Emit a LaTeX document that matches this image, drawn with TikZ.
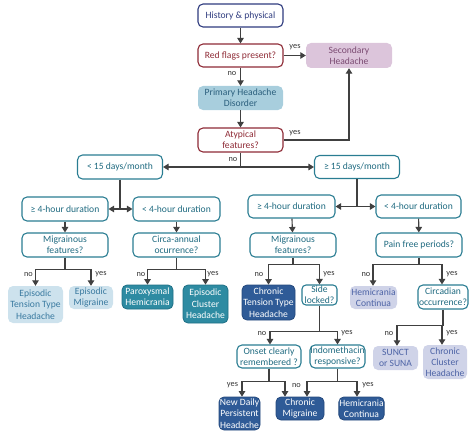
\documentclass[tikz,border=0pt]{standalone}
\usepackage{fontspec}
\setmainfont{Carlito}
\usetikzlibrary{arrows.meta,calc}
\definecolor{navy}{HTML}{2E3B7E}
\definecolor{dred}{HTML}{8E2A35}
\definecolor{teal}{HTML}{2A7D92}
\definecolor{tealtxt}{HTML}{1F6A80}
\definecolor{mauve}{HTML}{DCC5DB}
\definecolor{mauvetxt}{HTML}{7B4B72}
\definecolor{primf}{HTML}{A8CEDD}
\definecolor{primtxt}{HTML}{2B5F7D}
\definecolor{lightf}{HTML}{CDE2ED}
\definecolor{lighttxt}{HTML}{3A7AA0}
\definecolor{tealf}{HTML}{2E8BA2}
\definecolor{tealb}{HTML}{1F6F85}
\definecolor{darkf}{HTML}{2F5B97}
\definecolor{darkb}{HTML}{24497D}
\definecolor{lavf}{HTML}{CFD3E8}
\definecolor{lavtxt}{HTML}{4E64A6}
\definecolor{linec}{HTML}{404040}
\begin{document}
\begin{tikzpicture}[x=1pt,y=-1pt,
  base/.style={rounded corners=5pt,align=center,inner sep=0.5pt,font=\fontsize{9.6}{11.3}\selectfont},
  navybox/.style={base,draw=navy,text=navy,line width=1.1pt},
  redbox/.style={base,draw=dred,text=dred,line width=1.1pt},
  tealbox/.style={base,draw=teal,text=tealtxt,line width=1.1pt},
  mauvebox/.style={base,fill=mauve,text=mauvetxt},
  primbox/.style={base,fill=primf,text=primtxt},
  lightbox/.style={base,fill=lightf,text=lighttxt},
  tealleaf/.style={base,fill=tealf,draw=tealb,line width=0.8pt,text=white},
  darkleaf/.style={base,fill=darkf,draw=darkb,line width=0.8pt,text=white},
  lavbox/.style={base,fill=lavf,text=lavtxt},
  sz/.style 2 args={minimum width=#1pt,minimum height=#2pt},
  conn/.style={draw=linec,line width=1.1pt},
  arr/.style={conn,-{Triangle[length=5.5pt,width=6.5pt]}},
  lab/.style={font=\fontsize{8.3}{9}\selectfont,text=black!80,inner sep=0.5pt}
]
\useasboundingbox (0,0) rectangle (474,436);

% nodes
\node[navybox,sz={85}{23}] (hist) at (240.5,15.5) {History \& physical};
\node[redbox,sz={85}{23}] (red) at (240.5,55.5) {Red flags present?};
\node[mauvebox,sz={86}{25}] (sec) at (349,55.5) {Secondary\\Headache};
\node[primbox,sz={85}{24}] (prim) at (240.5,98) {Primary Headache\\Disorder};
\node[redbox,sz={85}{24}] (atyp) at (240.5,140) {Atypical\\features?};
\node[tealbox,sz={85}{24}] (lt15) at (120,167) {< 15 days/month};
\node[tealbox,sz={85}{23}] (ge15) at (357,167) {≥ 15 days/month};

\node[tealbox,sz={86}{24}] (lge4) at (65,209) {≥ 4-hour duration};
\node[tealbox,sz={87}{24}] (llt4) at (176.5,209) {< 4-hour duration};
\node[tealbox,sz={86}{24}] (lmig) at (65,245) {Migrainous\\features?};
\node[tealbox,sz={87}{24}] (circa) at (176.5,245) {Circa-annual\\ocurrence?};

\node[lightbox,sz={55}{37}] (etth) at (35.5,304.5) {Episodic\\Tension Type\\Headache};
\node[lightbox,sz={44}{23}] (em) at (91,297.5) {Episodic\\Migraine};
\node[tealleaf,sz={51}{24}] (ph) at (147.5,297) {Paroxysmal\\Hemicrania};
\node[tealleaf,sz={45}{38}] (ech) at (205.5,304) {Episodic\\Cluster\\Headache};

\node[tealbox,sz={87}{23}] (rge4) at (291.5,206.5) {≥ 4-hour duration};
\node[tealbox,sz={85}{23}] (rlt4) at (418.5,206.5) {< 4-hour duration};
\node[tealbox,sz={86}{24}] (rmig) at (293,245) {Migrainous\\features?};
\node[tealbox,sz={86}{24}] (pain) at (419,245) {Pain free periods?};

\node[darkleaf,sz={53}{35}] (ctth) at (268.5,302.5) {Chronic\\Tension Type\\Headache};
\node[tealbox,sz={35}{20},rounded corners=4pt] (side) at (319.5,295) {Side\\locked?};
\node[lavbox,sz={47}{23}] (hc1) at (373.5,297.5) {Hemicrania\\Continua};
\node[tealbox,sz={50}{24},inner sep=0pt] (circ) at (443,297) {Circadian\\occurrence?};

\node[tealbox,sz={64}{23}] (onset) at (269,356.5) {Onset clearly\\remembered ?};
\node[tealbox,sz={55}{23},inner sep=0pt] (indo) at (337.5,356.5) {Indomethacin\\responsive?};
\node[lavbox,sz={45}{24}] (sunct) at (395.5,358) {SUNCT\\or SUNA};
\node[lavbox,sz={44}{34}] (cch) at (445,362) {Chronic\\Cluster\\Headache};

\node[darkleaf,sz={41}{33}] (ndph) at (239.5,413.5) {New Daily\\Persistent\\Headache};
\node[darkleaf,sz={48}{23}] (cm) at (300,408.5) {Chronic\\Migraine};
\node[darkleaf,sz={43}{23}] (hc2) at (361.5,408.5) {Hemicrania\\Continua};

% connectors top
\draw[arr] (hist) -- (red);
\draw[arr] (red) -- (prim);
\node[lab] (lno1) at (232,73.5) {no};
\draw[arr] (red.east) -- (sec.west);
\node[lab] (lyes1) at (295,47.5) {yes};
\draw[arr] (prim) -- (atyp);
\draw[arr] (atyp.east) -| (sec.south);
\node[lab] (lyes2) at (295,133.5) {yes};
\coordinate (j1) at (atyp.south |- lt15.east);
\draw[conn] (atyp.south) -- (j1);
\draw[arr] (j1) -- (lt15.east);
\draw[arr] (j1) -- (ge15.west);
\node[lab] (lno2) at (233,159.5) {no};

% left half
\coordinate (j2) at (lt15.south |- lge4.east);
\draw[conn] (lt15.south) -- (j2);
\draw[arr] (j2) -- (lge4.east);
\draw[arr] (j2) -- (llt4.west);
\draw[arr] (lge4) -- (lmig);
\draw[arr] (llt4) -- (circa);

\coordinate (j3) at ($(lmig.south)+(0,11.5)$);
\draw[conn] (lmig.south) -- (j3);
\draw[arr] (j3) -| (etth.north);
\draw[arr] (j3) -| (em.north);
\node[lab] (lno3) at (28.5,274.5) {no};
\node[lab] (lyes3) at (101,274.5) {yes};

\coordinate (j4) at ($(circa.south)+(0,11.5)$);
\draw[conn] (circa.south) -- (j4);
\draw[arr] (j4) -| (ph.north);
\draw[arr] (j4) -| (ech.north);
\node[lab] (lno4) at (141,274.5) {no};
\node[lab] (lyes4) at (213,274.5) {yes};

% right half
\coordinate (j5) at (ge15.south |- rge4.east);
\draw[conn] (ge15.south) -- (j5);
\draw[arr] (j5) -- (rge4.east);
\draw[arr] (j5) -- (rlt4.west);
\draw[arr] (rge4) -- (rmig);
\draw[arr] (rlt4) -- (pain);

\coordinate (j6) at ($(rmig.south)+(0,7)$);
\draw[conn] (rmig.south) -- (j6);
\draw[arr] (j6) -| (ctth.north);
\draw[arr] (j6) -| (side.north);
\node[lab] (lno5) at (259,274.5) {no};
\node[lab] (lyes5) at (329,274.5) {yes};

\coordinate (j7) at ($(pain.south)+(0,7)$);
\draw[conn] (pain.south) -- (j7);
\draw[arr] (j7) -| ([xshift=-0.5pt]hc1.north);
\draw[arr] (j7) -| ([xshift=-1pt]circ.north);
\node[lab] (lno6) at (366,274.5) {no};
\node[lab] (lyes6) at (452,274.5) {yes};

\coordinate (j8) at ($(side.south)+(0,26)$);
\draw[conn] (side.south) -- (j8);
\draw[arr] (j8) -| ([xshift=1pt]onset.north);
\draw[arr] (j8) -| (indo.north);
\node[lab] (lno7) at (262,333.5) {no};
\node[lab] (lyes7) at (347,333.5) {yes};

\coordinate (j9) at ($(circ.south)+(0,16)$);
\draw[conn] (circ.south) -- (j9);
\draw[arr] (j9) -| ([xshift=1.5pt]sunct.north);
\draw[arr] (j9) -| ([xshift=-3pt]cch.north);
\node[lab] (lno8) at (389,333.5) {no};
\node[lab] (lyes8) at (452,333.5) {yes};

\coordinate (j10) at ($(onset.south)+(0,13)$);
\draw[conn] (onset.south) -- (j10);
\draw[arr] (j10) -| ([xshift=2.5pt]ndph.north);
\draw[arr] (j10) -| ([xshift=-15pt]cm.north);
\node[lab] (lyes9) at (232.5,385.5) {yes};

\coordinate (j11) at ($(indo.south)+(0,13)$);
\draw[conn] (indo.south) -- (j11);
\draw[arr] (j11) -| ([xshift=7pt]cm.north);
\draw[arr] (j11) -| ([xshift=-4.5pt]hc2.north);
\node[lab] (lno9) at (296.5,385.5) {no};
\node[lab] (lyes10) at (368,385.5) {yes};
\end{tikzpicture}
\end{document}
